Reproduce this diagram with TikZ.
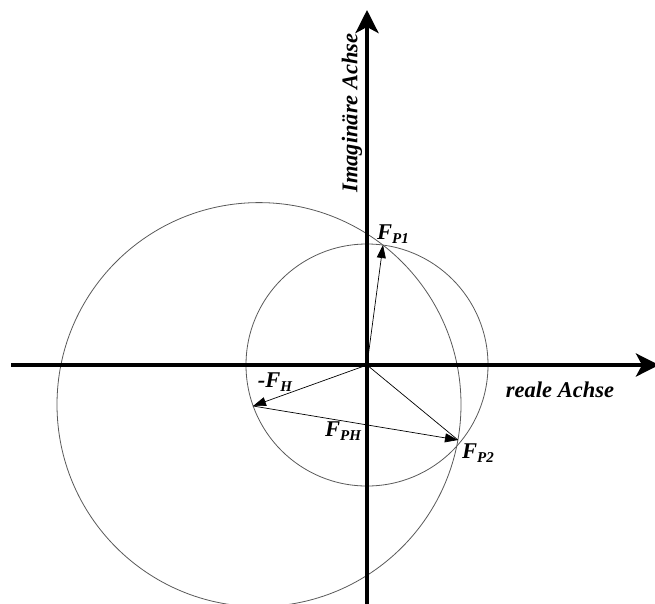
\documentclass[tikz,border=0pt]{standalone}
\usepackage{fontspec}
\setmainfont{Liberation Serif}
\usetikzlibrary{arrows.meta}
\newcommand{\lblF}[1]{\textbf{\textit{F}}\raisebox{-0.35ex}{\fontsize{15}{15}\selectfont\textbf{\textit{#1}}}}
\tikzset{
  axis/.style={line width=4pt,-{Stealth[length=23pt,width=23pt,inset=6pt]}},
  circ/.style={draw=black!65,line width=0.8pt},
  vec/.style={line width=0.7pt,-{Triangle[length=13pt,width=9pt]}},
  plain/.style={line width=0.7pt},
  lbl/.style={font=\fontsize{22.5}{22.5}\selectfont\bfseries\itshape,inner sep=0pt}
}
\begin{document}
\begin{tikzpicture}[x=1pt,y=-1pt]
\useasboundingbox (0,0) rectangle (655,603);
\coordinate (O) at (367,365);
\coordinate (P1) at (383,245);
\coordinate (P2) at (458,440);
\coordinate (H) at (253,406);
\coordinate (C) at (259,404.6);
\coordinate (xl) at (11,365);
\coordinate (xr) at (659,365);
\coordinate (yb) at (367,610);
\coordinate (yt) at (367,10);
% circles
\draw[circ] (O) circle[radius=121];
\draw[circ] (C) circle[radius=202];
% axes
\draw[axis] (xl) -- (xr);
\draw[axis] (yb) -- (yt);
% vectors
\draw[vec] (O) -- (P1);
\draw[vec] (O) -- (H);
\draw[vec] (H) -- (P2);
\draw[plain] (O) -- (P2);
% labels
\node[lbl,rotate=90] (ylab) at (352,113) {Imaginäre Achse};
\node[lbl] (xlab) at (560,390) {reale Achse};
\node[lbl] (lP1) at (393,234) {\lblF{P1}};
\node[lbl] (lH) at (275,382) {-\lblF{H}};
\node[lbl] (lPH) at (343,431) {\lblF{PH}};
\node[lbl] (lP2) at (478,453) {\lblF{P2}};
\end{tikzpicture}
\end{document}
